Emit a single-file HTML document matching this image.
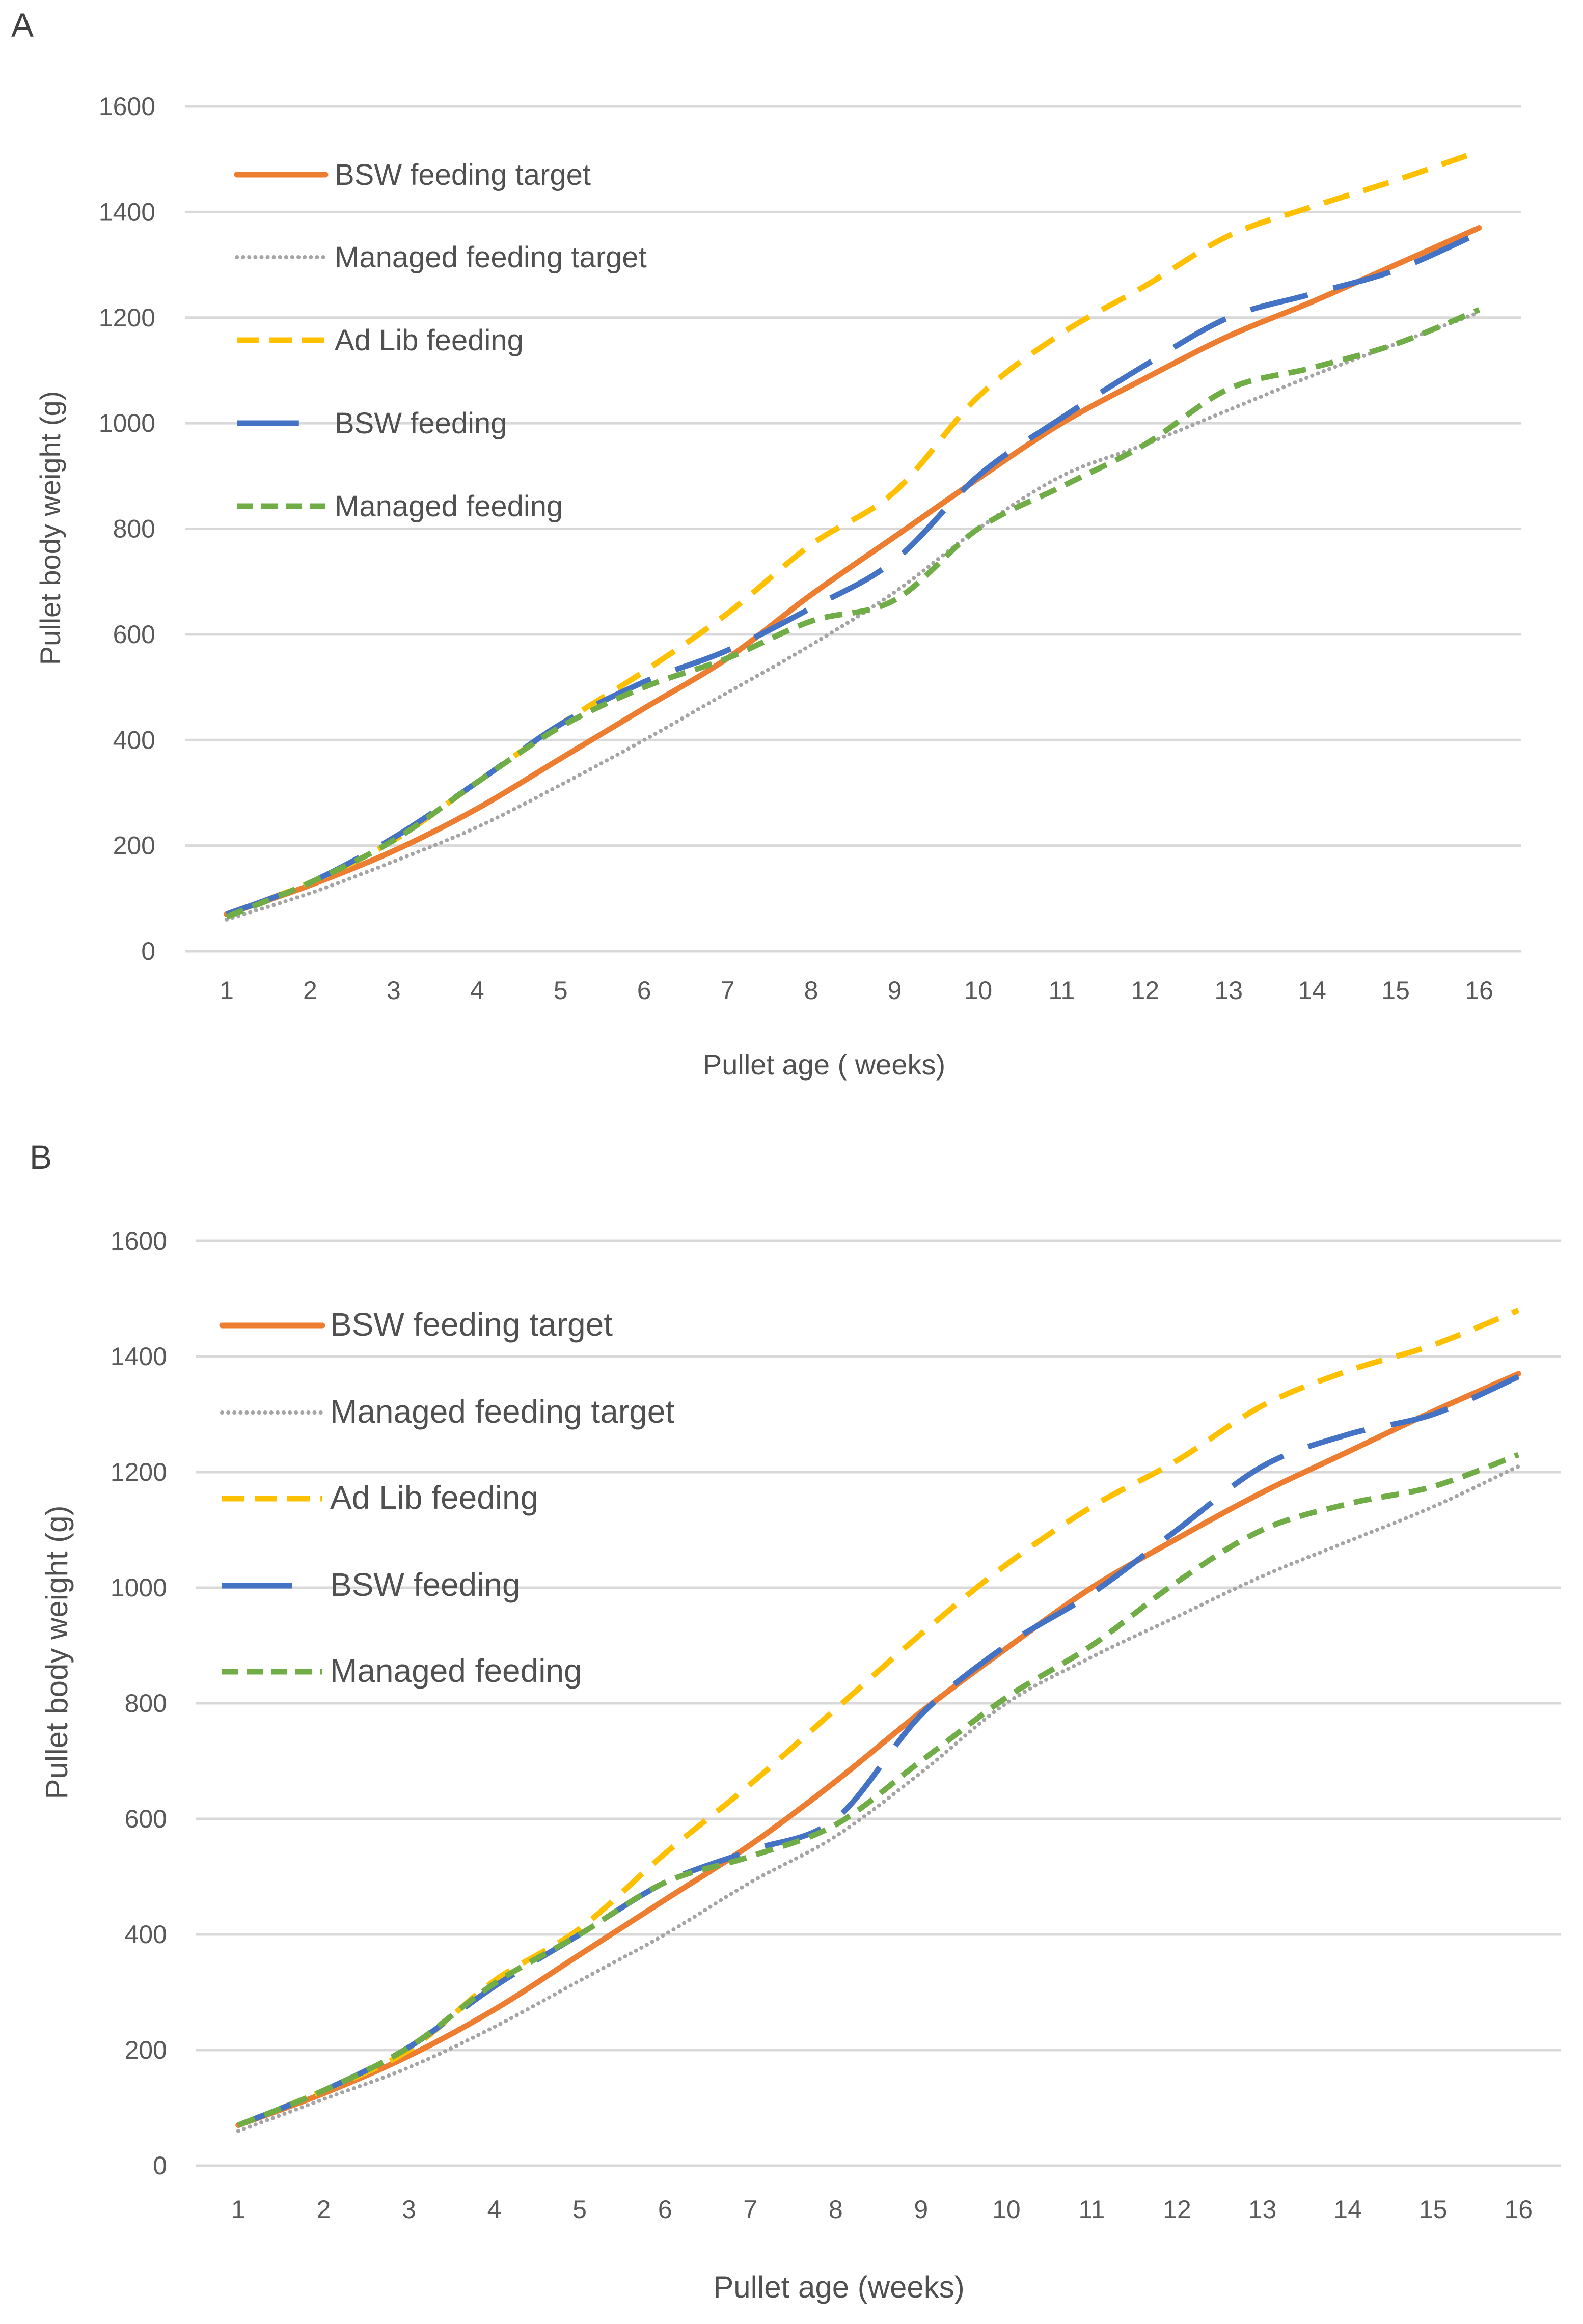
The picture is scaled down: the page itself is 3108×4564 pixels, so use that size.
<!DOCTYPE html>
<html><head><meta charset="utf-8"><style>
html,body{margin:0;padding:0;background:#fff;}
svg{display:block;font-family:"Liberation Sans",sans-serif;}
</style></head><body>
<svg id="root" width="3108" height="4564" viewBox="0 0 3108 4564" xmlns="http://www.w3.org/2000/svg">
<rect width="3108" height="4564" fill="#fff"/>
</svg>
<script>
const weeks = [1,2,3,4,5,6,7,8,9,10,11,12,13,14,15,16];
const yTicks = [0,200,400,600,800,1000,1200,1400,1600];
const seriesNames = ["BSW feeding target","Managed feeding target","Ad Lib feeding","BSW feeding","Managed  feeding"];
const bswTargetA = [70,125,190,270,365,460,555,675,785,895,1000,1085,1165,1230,1300,1370];
const managedTargetA = [60,110,170,235,315,400,490,580,680,800,900,960,1025,1090,1150,1210];
const adLibA = [70,130,210,320,430,530,640,770,870,1050,1170,1260,1355,1410,1460,1515];
const bswFeedingA = [70,130,215,320,430,510,570,650,740,900,1010,1110,1200,1245,1290,1360];
const managedFeedingA = [65,130,210,320,425,500,555,625,665,800,880,960,1065,1105,1150,1215];
const bswTargetB = [70,125,190,270,365,460,555,665,785,895,1000,1085,1165,1235,1305,1370];
const managedTargetB = [60,115,170,240,320,400,490,570,680,800,880,950,1020,1080,1140,1210];
const adLibB = [70,130,200,320,410,540,660,790,920,1040,1140,1220,1315,1375,1420,1480];
const bswFeedingB = [70,130,205,310,400,490,545,600,780,900,990,1100,1210,1265,1300,1365];
const managedFeedingB = [70,130,205,315,400,490,535,590,700,810,900,1010,1100,1145,1175,1230];

const NS="http://www.w3.org/2000/svg";
const root=document.getElementById('root');
function mk(tag,attrs,parent,text){const e=document.createElementNS(NS,tag);for(const k in attrs)e.setAttribute(k,attrs[k]);if(text!==undefined)e.textContent=text;parent.appendChild(e);return e;}
const styles=[
 {stroke:"#ED7D31",w:11,dash:"",cap:"round"},
 {stroke:"#A5A5A5",w:8,dash:"0.1 12",cap:"round"},
 {stroke:"#FFC000",w:11,dash:"52 29",cap:"butt"},
 {stroke:"#4472C4",w:11,dash:"116 52",cap:"butt"},
 {stroke:"#70AD47",w:11,dash:"35 20",cap:"butt"}];
const keys=["bsw-target","managed-target","ad-lib","bsw-feeding","managed-feeding"];

function chart(c){
 const g=mk('g',{},root);
 
 
 const step=(c.right-c.left)/weeks.length;
 const xs=w=>c.left+step*(w-0.5);
 const ys=v=>c.y0+(c.y1600-c.y0)*v/1600;
 const lab=mk('text',{x:c.labX,y:c.labY,'font-size':66,fill:'#404040'},g,c.id);
 
 
 yTicks.forEach(t=>{
  const l=mk('line',{x1:c.left,x2:c.right,y1:ys(t),y2:ys(t),stroke:'#d9d9d9','stroke-width':5},g);
  
  
  const tx=mk('text',{x:c.tickX,y:ys(t)+17,'text-anchor':'end','font-size':50,fill:'#595959'},g,String(t));
  
  
 });
 weeks.forEach(w=>{
  const tx=mk('text',{x:xs(w),y:c.xLabY,'text-anchor':'middle','font-size':50,fill:'#595959'},g,String(w));
  
  
 });
 const xt=mk('text',{x:c.xtX,y:c.xtY,'text-anchor':'middle','font-size':c.tf,fill:'#505050'},g,c.xTitle);
 
 
 const yt=mk('text',{x:0,y:0,'text-anchor':'middle','font-size':c.tf,fill:'#505050',transform:`translate(${c.ytX},${c.ytY}) rotate(-90)`},g,'Pullet body weight (g)');
 
 
 c.data.forEach((arr,i)=>{
  const p=weeks.map((w,j)=>[xs(w),ys(arr[j])]);
  let d=`M${p[0][0]},${p[0][1]}`;
  for(let j=0;j<p.length-1;j++){
   const p0=p[Math.max(0,j-1)],p1=p[j],p2=p[j+1],p3=p[Math.min(p.length-1,j+2)];
   const t=1/6;
   d+=` C${p1[0]+(p2[0]-p0[0])*t},${p1[1]+(p2[1]-p0[1])*t} ${p2[0]-(p3[0]-p1[0])*t},${p2[1]-(p3[1]-p1[1])*t} ${p2[0]},${p2[1]}`;
  }
  const s=styles[i];
  const path=mk('path',{d:d,fill:'none',stroke:s.stroke,'stroke-width':s.w,'stroke-dasharray':s.dash,'stroke-linecap':s.cap,'stroke-linejoin':'round'},g);
  
  
 });
 seriesNames.forEach((n,i)=>{
  const s=styles[i];const y=c.legY[i];
  const lg=mk('g',{},g);
  
  
  const le=(i===3)?c.legX1-(c.legX1-c.legX0)*0.3:c.legX1;
  mk('line',{x1:c.legX0,x2:le,y1:y,y2:y,stroke:s.stroke,'stroke-width':s.w,'stroke-dasharray':i===3?'':(i===2?'44 20':(i===4?'32 16':s.dash)),'stroke-linecap':s.cap},lg);
  mk('text',{x:c.legTX,y:y+20,'font-size':c.lf,fill:'#505050'},lg,n);
 });
}
chart({id:'A',left:363,right:2986,y0:1868,y1600:209,labX:22,labY:72,tickX:305,xLabY:1962,xtX:1618,xtY:2110,ytX:118,ytY:1037,tf:56,xTitle:'Pullet age ( weeks)',
 data:[bswTargetA,managedTargetA,adLibA,bswFeedingA,managedFeedingA],legY:[343,505,668,831,994],legX0:465,legX1:639,legTX:657,lf:58});
chart({id:'B',left:384,right:3065,y0:4253,y1600:2437,labX:58,labY:2295,tickX:328,xLabY:4356,xtX:1647,xtY:4512,ytX:132,ytY:3245,tf:60,xTitle:'Pullet age (weeks)',
 data:[bswTargetB,managedTargetB,adLibB,bswFeedingB,managedFeedingB],legY:[2603,2774,2943,3114,3283],legX0:436,legX1:633,legTX:648,lf:64});
</script>
</body></html>
